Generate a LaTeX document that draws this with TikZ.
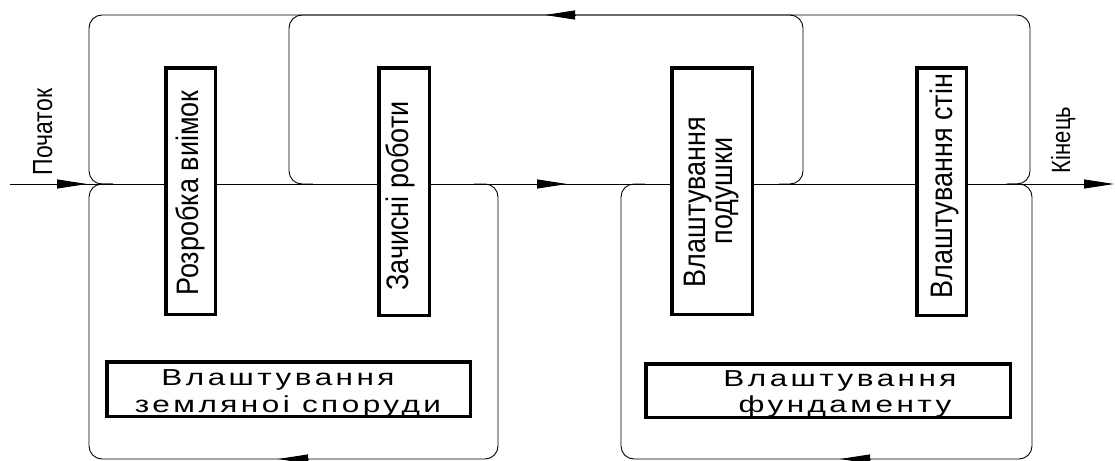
\documentclass[tikz,border=0pt]{standalone}
\usepackage{fontspec}
\usepackage{graphicx}
\setmainfont{Liberation Sans}
\newfontfamily\widefont[LetterSpace=11]{Liberation Sans}
\usetikzlibrary{arrows.meta}
\newcommand{\vtext}[1]{\scalebox{1}[1.15]{#1}}
\newcommand{\htext}[1]{\scalebox{1.5}[1.1]{\widefont\fontsize{21}{21}\selectfont #1}}
\begin{document}
\begin{tikzpicture}[x=1pt,y=-1pt,
  wire/.style={line width=0.9pt, rounded corners=13pt},
  headarrow/.style={-{Triangle[length=30pt,width=9pt]}, line width=0.9pt},
  box/.style={draw, line width=3.5pt, fill=white, inner sep=0pt},
  vlabel/.style={rotate=90, anchor=base, inner sep=0pt, font=\fontsize{27}{27}\selectfont},
  hlabel/.style={anchor=base, inner sep=0pt}
]
\useasboundingbox (0,0) rectangle (1115,460);

% coordinates on the main line
\coordinate (start) at (10,184);
\coordinate (end) at (1114,184);

% loops (rounded frames)
\coordinate (A1) at (113,184); \coordinate (A2) at (89,184); \coordinate (A3) at (89,15);
\coordinate (A4) at (1030,15); \coordinate (A5) at (1030,184); \coordinate (A6) at (1006,184);
\draw[wire] (A1) -- (A2) -- (A3) -- (A4) -- (A5) -- (A6);

\coordinate (B1) at (313,184); \coordinate (B2) at (289,184); \coordinate (B3) at (289,15);
\coordinate (B4) at (803,15); \coordinate (B5) at (803,184); \coordinate (B6) at (779,184);
\draw[wire] (B1) -- (B2) -- (B3) -- (B4) -- (B5) -- (B6);

\coordinate (C1) at (113,184); \coordinate (C2) at (89,184); \coordinate (C3) at (89,459);
\coordinate (C4) at (498,459); \coordinate (C5) at (498,184); \coordinate (C6) at (474,184);
\draw[wire] (C1) -- (C2) -- (C3) -- (C4) -- (C5) -- (C6);

\coordinate (D1) at (645,184); \coordinate (D2) at (621,184); \coordinate (D3) at (621,459);
\coordinate (D4) at (1032,459); \coordinate (D5) at (1032,184); \coordinate (D6) at (1008,184);
\draw[wire] (D1) -- (D2) -- (D3) -- (D4) -- (D5) -- (D6);

% main line
\draw[headarrow] (start) -- (end);

% arrowheads along the lines
\coordinate (h1a) at (57,184);  \coordinate (h1b) at (87,184);
\coordinate (h2a) at (537,184); \coordinate (h2b) at (567,184);
\coordinate (h3a) at (575,15);  \coordinate (h3b) at (545,15);
\coordinate (h4a) at (308,459); \coordinate (h4b) at (278,459);
\coordinate (h5a) at (870,459); \coordinate (h5b) at (840,459);
\draw[headarrow] (h1a) -- (h1b);
\draw[headarrow] (h2a) -- (h2b);
\draw[headarrow] (h3a) -- (h3b);
\draw[headarrow] (h4a) -- (h4b);
\draw[headarrow] (h5a) -- (h5b);

% boxes
\node[box, minimum width=49.5pt, minimum height=246.5pt] (b1) at (190.5,191) {};
\node[box, minimum width=50.5pt, minimum height=247.5pt] (b2) at (404,191.5) {};
\node[box, minimum width=80.5pt, minimum height=246.5pt] (b3) at (712,191) {};
\node[box, minimum width=49.5pt, minimum height=247.5pt] (b4) at (941.5,191.5) {};
\node[box, minimum width=363.5pt, minimum height=54.5pt] (b5) at (288.5,389) {};
\node[box, minimum width=364.5pt, minimum height=53.5pt] (b6) at (828,390.5) {};

% vertical texts
\node[vlabel] (t1) at (198,193) {\vtext{Розробка виімок}};
\node[vlabel] (t2) at (408,196) {\vtext{Зачисні роботи}};
\node[vlabel] (t3a) at (705,202) {\vtext{Влаштування}};
\node[vlabel] (t3b) at (732,191) {\vtext{подушки}};
\node[vlabel] (t4) at (952,186) {\vtext{Влаштування стін}};
\node[vlabel, font=\fontsize{23}{23}\selectfont] (tstart) at (52,132) {\scalebox{1}[1.2]{Початок}};
\node[vlabel, font=\fontsize{22}{22}\selectfont] (tend) at (1070,140) {\scalebox{1}[1.2]{Кінець}};

% horizontal texts
\node[hlabel] (t5a) at (278,385) {\htext{Влаштування}};
\node[hlabel] (t5b) at (288,412) {\htext{земляноі споруди}};
\node[hlabel] (t6a) at (840,386) {\htext{Влаштування}};
\node[hlabel] (t6b) at (845,412) {\htext{фундаменту}};
\end{tikzpicture}
\end{document}
